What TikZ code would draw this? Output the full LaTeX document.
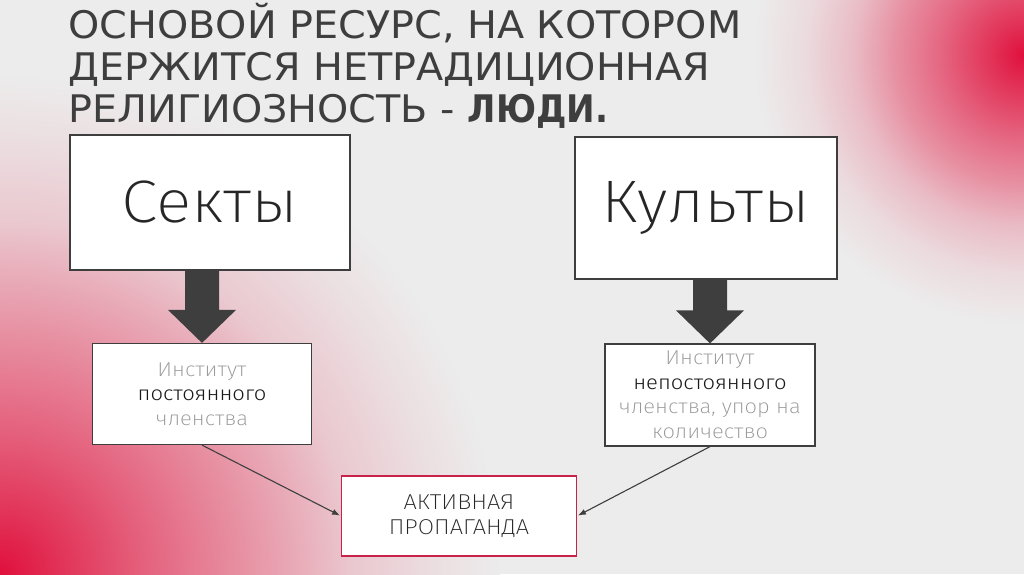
\documentclass[tikz,border=0pt]{standalone}
\usepackage{fontspec,xcolor,graphicx}
\usetikzlibrary{arrows.meta,calc,positioning}
\setmainfont{DejaVu Sans}[FakeStretch=1.045]
\newfontfamily\thinfont{Fira Sans ExtraLight}[FakeStretch=1.1]
\newfontfamily\bodyfont{Fira Sans Light}[FakeStretch=1.1]
\definecolor{bggray}{RGB}{236,236,236}
\definecolor{glowred}{RGB}{224,16,60}
\definecolor{inkgray}{RGB}{62,62,62}
\definecolor{softgray}{RGB}{150,150,150}
\definecolor{framered}{RGB}{200,34,74}
% the path radius is 25bp of the shading
\pgfdeclareradialshading{glowtr}{\pgfpoint{0bp}{0bp}}{color(0bp)=(glowred); color(3.9bp)=(glowred!80!bggray);
  color(7.9bp)=(glowred!60!bggray); color(11.9bp)=(glowred!42!bggray); color(15.8bp)=(glowred!22!bggray);
  color(20.2bp)=(glowred!8!bggray); color(25bp)=(bggray); color(50bp)=(bggray)}
\pgfdeclareradialshading{glowbl}{\pgfpoint{0bp}{0bp}}{color(0bp)=(glowred); color(3.85bp)=(glowred!80!bggray);
  color(7bp)=(glowred!64!bggray); color(10.6bp)=(glowred!48!bggray); color(14.3bp)=(glowred!32!bggray);
  color(17.7bp)=(glowred!16!bggray); color(21.9bp)=(glowred!6!bggray); color(25bp)=(bggray); color(50bp)=(bggray)}

\begin{document}
\begin{tikzpicture}[>=Latex,x=1pt,y=-1pt,
  bigbox/.style={draw=inkgray,line width=1.4pt,fill=white,inner sep=0pt,
    font=\thinfont\fontsize{60}{70}\selectfont,text=black!85},
  smallbox/.style={draw=inkgray,line width=1.2pt,fill=white,inner sep=0pt,align=center,
    font=\thinfont\fontsize{20}{24.5}\selectfont,text=softgray},
  titleline/.style={anchor=base west,text=inkgray,font=\fontsize{38}{43}\selectfont},
  thin/.style={->,draw=inkgray,line width=1.1pt,shorten >=1pt}]
% background
\useasboundingbox (0,0) rectangle (1024,574);
\fill[bggray] (0,0) rectangle (1024,574);
\begin{scope}
\clip (0,0) rectangle (1024,574);
\shade[shading=glowtr] (1024,55) circle (270pt);
\shade[shading=glowbl] (0,574) circle (500pt);
\end{scope}

\node[titleline] (title1) at (65,38) {ОСНОВОЙ РЕСУРС, НА КОТОРОМ};
\node[titleline] (title2) at (65,80) {ДЕРЖИТСЯ НЕТРАДИЦИОННАЯ};
\node[titleline] (title3) at (65,122) {РЕЛИГИОЗНОСТЬ - \scalebox{0.86}[1]{\textbf{ЛЮДИ.}}};

\node[bigbox,minimum width=280,minimum height=135] (sekty) at (210,202.5) {Секты};
\node[bigbox,minimum width=262,minimum height=142] (kulty) at (706,208) {Культы};

\node[smallbox,minimum width=219,minimum height=101] (inst1) at (202,394)
  {Институт\\{\bodyfont\color{black!90}постоянного}\\членства};
\node[smallbox,minimum width=210,minimum height=102] (inst2) at (710,395)
  {Институт\\{\bodyfont\color{black!90}непостоянного}\\членства, упор на\\количество};

\node[smallbox,draw=framered,minimum width=235,minimum height=80,text=black!85,
  font=\thinfont\fontsize{21.5}{25}\selectfont] (prop) at (459,516) {АКТИВНАЯ\\ПРОПАГАНДА};

% block arrows
\foreach \src/\dst in {sekty/inst1,kulty/inst2}
  \fill[inkgray] let \p1=(\src.south), \p2=(\dst.north) in
    (\x2-17pt,\y1) -- (\x2+17pt,\y1) -- (\x2+17pt,\y2+33pt) -- (\x2+34pt,\y2+33pt)
    -- (\x2,\y2) -- (\x2-34pt,\y2+33pt) -- (\x2-17pt,\y2+33pt) -- cycle;

\draw[thin] (inst1.south) -- (prop.west);
\draw[thin] (inst2.south) -- (prop.east);
\end{tikzpicture}
\end{document}
